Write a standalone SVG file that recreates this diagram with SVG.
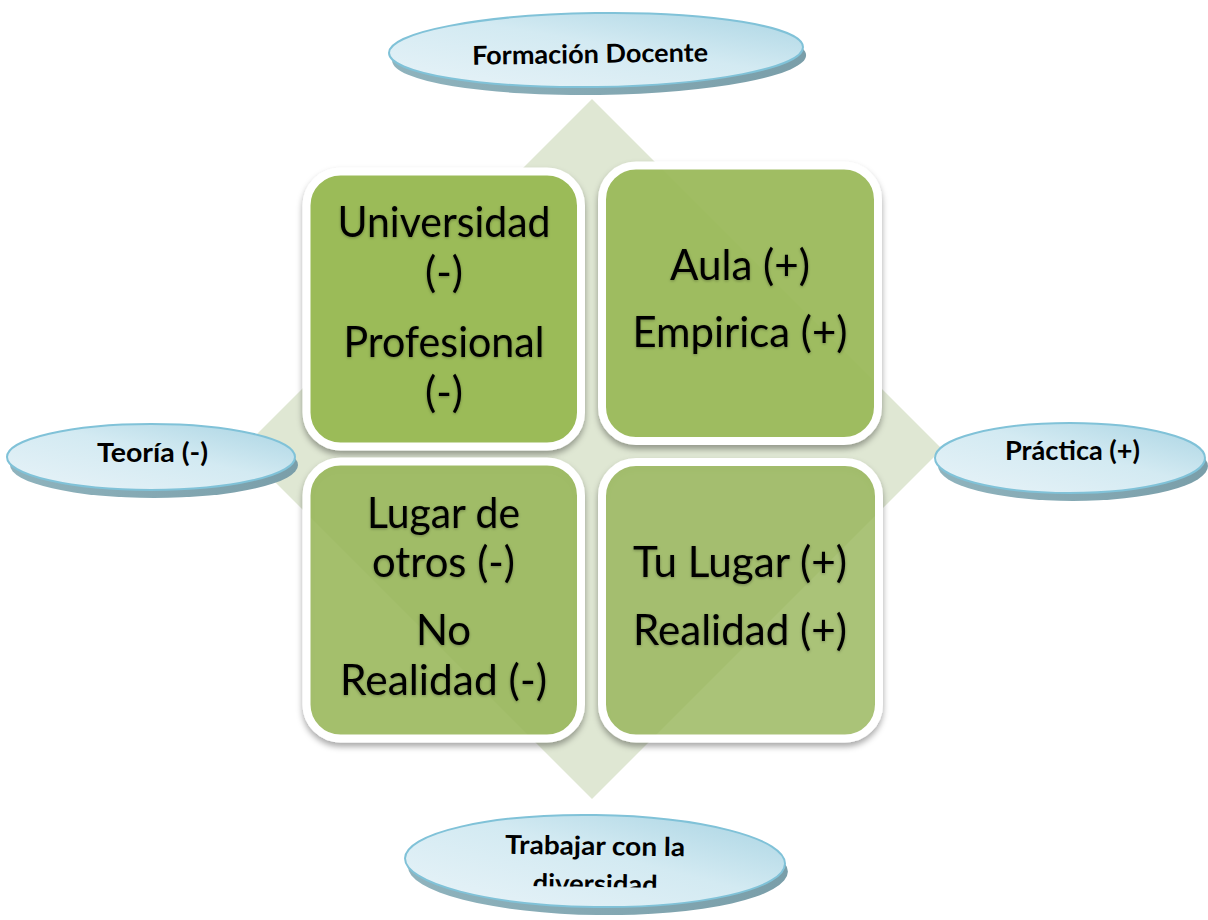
<svg xmlns="http://www.w3.org/2000/svg" width="1208" height="920" viewBox="0 0 1208 920">
<defs>
<style>
.box{stroke:#ffffff;stroke-width:8;filter:url(#bshadow)}
.bt{font-family:Lato,"Liberation Sans",sans-serif;font-size:42px;fill:#000;text-anchor:middle;filter:url(#tglow)}
.et{font-family:Lato,"Liberation Sans",sans-serif;font-weight:bold;font-size:26px;fill:#000;text-anchor:middle}
.face{fill:url(#eg);stroke:#80c2d8;stroke-width:2}
.ext{fill:url(#xg)}
</style>
<linearGradient id="eg" x1="0" y1="1" x2="1" y2="0">
<stop offset="0" stop-color="#e8f3f8"/>
<stop offset="0.55" stop-color="#d3eaf2"/>
<stop offset="1" stop-color="#a9d4e3"/>
</linearGradient>
<linearGradient id="xg" x1="0" y1="0" x2="1" y2="0">
<stop offset="0" stop-color="#8fb3bd"/>
<stop offset="1" stop-color="#7a9ea9"/>
</linearGradient>
<filter id="bshadow" x="-10%" y="-10%" width="120%" height="125%">
<feDropShadow dx="0" dy="4" stdDeviation="3" flood-color="#000" flood-opacity="0.35"/>
</filter>
<filter id="tglow" x="-10%" y="-20%" width="120%" height="140%">
<feDropShadow dx="0" dy="1" stdDeviation="1.5" flood-color="#000" flood-opacity="0.3"/>
</filter>
<clipPath id="clipDiv"><rect x="380" y="800" width="440" height="87"/></clipPath>
</defs>

<g id="diamond">
<polygon points="592,99 942,449 592,799 242,449" fill="#dfe7d3"/>
</g>

<g id="connectors"></g>

<g id="node-tl">
<rect class="box" x="306.5" y="171.5" width="274.5" height="275" rx="34" fill="#9bbb59"/>
<text class="bt" x="444" y="237" textLength="213" lengthAdjust="spacingAndGlyphs">Universidad</text>
<text class="bt" x="444" y="287">(-)</text>
<text class="bt" x="444" y="357" textLength="201" lengthAdjust="spacingAndGlyphs">Profesional</text>
<text class="bt" x="444" y="407">(-)</text>
</g>

<g id="node-tr">
<rect class="box" x="602" y="165.5" width="276" height="275.5" rx="34" fill="#9bbb59" fill-opacity="0.9"/>
<text class="bt" x="740" y="280" textLength="140" lengthAdjust="spacingAndGlyphs">Aula (+)</text>
<text class="bt" x="740" y="347" textLength="215" lengthAdjust="spacingAndGlyphs">Empirica (+)</text>
</g>

<g id="node-bl">
<rect class="box" x="306.5" y="461.5" width="274.5" height="277" rx="34" fill="#9bbb59" fill-opacity="0.82"/>
<text class="bt" x="443.5" y="528" textLength="153" lengthAdjust="spacingAndGlyphs">Lugar de</text>
<text class="bt" x="443.5" y="577" textLength="143" lengthAdjust="spacingAndGlyphs">otros (-)</text>
<text class="bt" x="443.5" y="645">No</text>
<text class="bt" x="443.5" y="695" textLength="207" lengthAdjust="spacingAndGlyphs">Realidad (-)</text>
</g>

<g id="node-br">
<rect class="box" x="602" y="462" width="277" height="276.5" rx="34" fill="#9bbb59" fill-opacity="0.72"/>
<text class="bt" x="740" y="577" textLength="214" lengthAdjust="spacingAndGlyphs">Tu Lugar (+)</text>
<text class="bt" x="740" y="645" textLength="214" lengthAdjust="spacingAndGlyphs">Realidad (+)</text>
</g>

<g id="node-top" transform="rotate(-0.8 596 50)">
<ellipse class="ext" cx="599" cy="58" rx="207" ry="37"/>
<ellipse class="face" cx="596" cy="50" rx="207" ry="37"/>
<text class="et" x="590" y="63" textLength="236" lengthAdjust="spacingAndGlyphs">Formación Docente</text>
</g>

<g id="node-left">
<ellipse class="ext" cx="154" cy="465" rx="144" ry="33"/>
<ellipse class="face" cx="151" cy="457" rx="144" ry="33"/>
<text class="et" x="152.5" y="462" textLength="111" lengthAdjust="spacingAndGlyphs">Teoría (-)</text>
</g>

<g id="node-right">
<ellipse class="ext" cx="1073" cy="466" rx="135" ry="35"/>
<ellipse class="face" cx="1070" cy="458" rx="135" ry="35"/>
<text class="et" x="1072.5" y="460" textLength="135" lengthAdjust="spacingAndGlyphs">Práctica (+)</text>
</g>

<g id="node-bottom" transform="rotate(0.8 595 862)">
<ellipse class="ext" cx="598" cy="869" rx="190" ry="46"/>
<ellipse class="face" cx="595" cy="861" rx="190" ry="46"/>
<text class="et" x="595" y="855" textLength="180" lengthAdjust="spacingAndGlyphs">Trabajar con la</text>
<text class="et" x="595.5" y="893" textLength="125" lengthAdjust="spacingAndGlyphs" clip-path="url(#clipDiv)">diversidad</text>
</g>
</svg>
